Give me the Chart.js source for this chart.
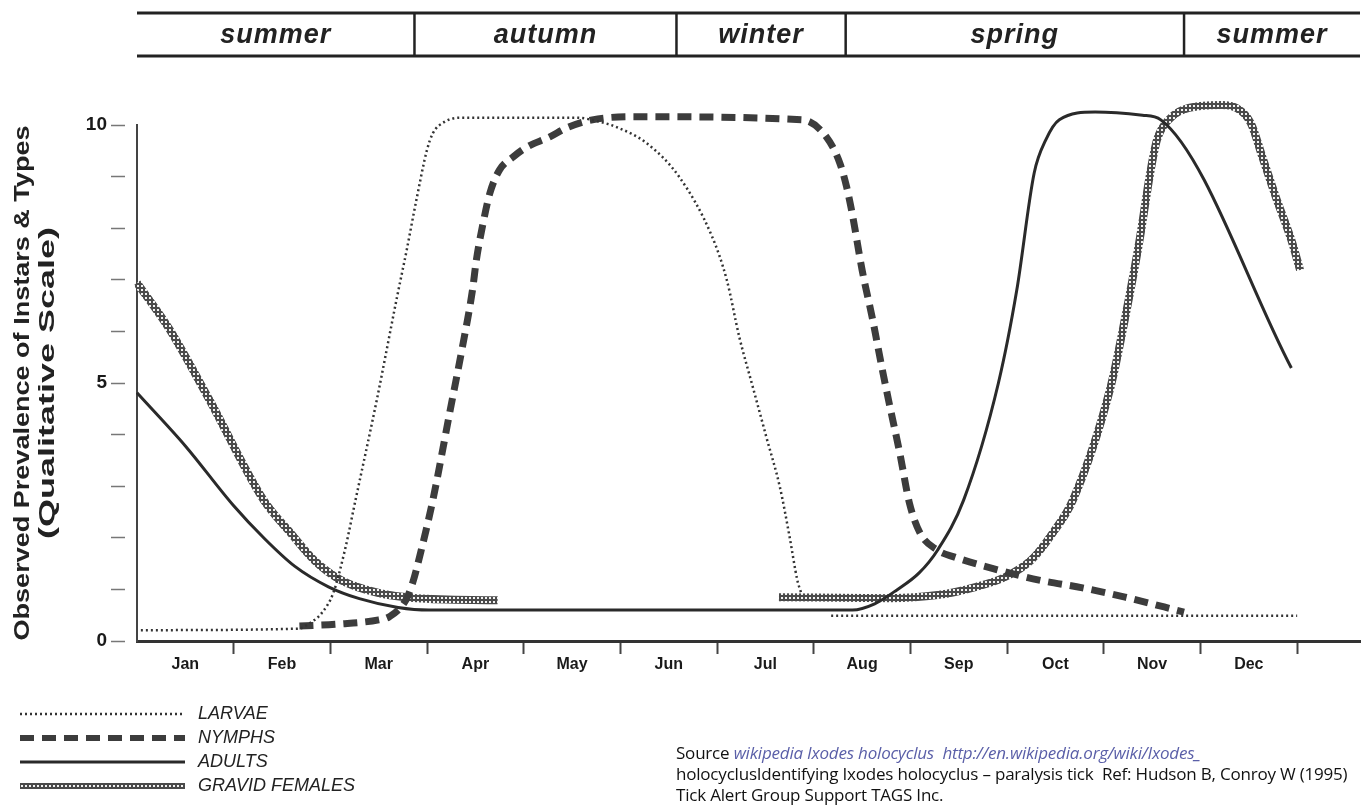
<!DOCTYPE html>
<html>
<head>
<meta charset="utf-8">
<script src="https://cdn.jsdelivr.net/npm/chart.js@4.4.1/dist/chart.umd.min.js"></script>
<style>
  html, body { margin: 0; padding: 0; background: #fff; overflow: hidden; }
  #wrap { position: relative; width: 1367px; height: 805px; }
  #source { position: absolute; left: 676px; top: 742px; font: 17px "Open Sans", "Liberation Sans", Arial, sans-serif;
            line-height: 21px; color: #111; white-space: nowrap; letter-spacing: -0.2px; }
  #source i { color: #5a5fa8; }
</style>
</head>
<body>
<div id="wrap">
  <canvas id="tickChart"></canvas>
  <div id="source">Source <i>wikipedia Ixodes holocyclus&nbsp; http://en.wikipedia.org/wiki/Ixodes_</i><br>holocyclusIdentifying Ixodes holocyclus – paralysis tick&nbsp; Ref: Hudson B, Conroy W (1995)<br>Tick Alert Group Support TAGS Inc.</div>
</div>
<script>
// months along the bottom, seasons along the top (x in months from start of Jan)
const months = ["Jan","Feb","Mar","Apr","May","Jun","Jul","Aug","Sep","Oct","Nov","Dec"];
const seasonNames = ["summer","autumn","winter","spring","summer"];
const seasonEdges = [0, 2.87, 5.58, 7.33, 10.83, 12.65];
const yTickLabels = [0, 5, 10];
const yTitle = ["Observed Prevalence of Instars & Types", "(Qualitative Scale)"];

// series (null = gap in the line)
const larvaeX = [0.04,1.67,1.79,1.91,2.03,2.15,2.26,2.48,2.69,2.79,2.89,3.00,3.06,3.18,3.34,4.55,4.79,4.96,5.27,5.61,5.95,6.10,6.23,6.37,6.51,6.65,6.75,6.83,6.87,7.0,7.18,12.0];
const larvaeY = [0.21,0.24,0.35,0.54,0.93,1.76,2.73,4.67,6.67,7.58,8.55,9.52,9.84,10.06,10.14,10.14,10.06,9.96,9.65,8.99,7.83,7.0,5.89,4.92,3.95,2.98,2.02,1.18,0.93,null,0.49,0.49];

const nymphX = [1.68,2.10,2.50,2.61,2.78,2.85,2.94,3.06,3.24,3.36,3.47,3.51,3.58,3.65,3.75,3.89,4.03,4.27,4.44,4.71,5.13,6.88,7.13,7.27,7.34,7.40,7.50,7.61,7.71,7.78,7.89,7.99,8.10,8.28,8.45,8.90,9.33,9.78,10.22,10.83];
const nymphY = [0.29,0.33,0.41,0.47,0.79,1.12,1.76,2.73,4.48,5.64,6.80,7.38,8.10,8.68,9.13,9.38,9.57,9.77,9.94,10.10,10.16,10.10,9.77,9.26,8.80,8.26,7.19,6.22,5.25,4.61,3.64,2.67,2.09,1.76,1.63,1.38,1.18,1.03,0.85,0.56];

const adultX = [0,0.50,1.00,1.31,1.63,1.98,2.30,2.70,3.02,7.40,7.63,7.86,8.09,8.28,8.55,8.91,9.10,9.28,9.40,9.54,9.91,10.40,10.59,11.94];
const adultY = [4.81,3.78,2.62,2.00,1.45,1.05,0.82,0.65,0.60,0.60,0.72,0.99,1.32,1.76,2.73,5.00,6.80,9.07,9.71,10.10,10.25,10.19,10.10,5.29];

const gravidX = [0,0.34,0.75,1.31,1.59,1.83,2.11,2.50,2.89,3.73,5.0,6.64,7.79,8.28,8.68,8.98,9.25,9.47,9.68,10.07,10.21,10.37,10.48,10.55,10.67,10.88,11.22,11.37,11.52,11.64,11.78,11.94,12.03];
const gravidY = [6.94,6.03,4.67,2.73,2.09,1.57,1.18,0.93,0.83,0.79,null,0.85,0.83,0.89,1.05,1.24,1.57,2.09,2.73,4.92,6.16,7.77,9.07,9.71,10.10,10.33,10.39,10.33,10.04,9.38,8.60,7.77,7.19];

function pts(xs, ys) { return xs.map((x, i) => ({ x: x, y: ys[i] })); }

// checkered texture for the gravid females line
const pc = document.createElement("canvas");
pc.width = 4; pc.height = 4;
const pg = pc.getContext("2d");
pg.fillStyle = "#4a4a4a"; pg.fillRect(0, 0, 4, 4);
pg.fillStyle = "#f2f2f2"; pg.fillRect(1, 1, 2, 2);
const gravidPattern = pg.createPattern(pc, "repeat");

// tick positions: month labels in the middle, marks at month ends
const xTickValues = [];
months.forEach((m, i) => { xTickValues.push(i + 0.5, i + 1); });

const FONT = '"Liberation Sans", Arial, sans-serif';

const seasonBar = {
  id: "seasonBar",
  afterDraw(chart) {
    const { ctx, chartArea, scales: { x } } = chart;
    ctx.save();
    ctx.strokeStyle = "#222";
    ctx.lineWidth = 3;
    ctx.beginPath();
    ctx.moveTo(chartArea.left, 13); ctx.lineTo(chartArea.right, 13);
    ctx.moveTo(chartArea.left, 56); ctx.lineTo(chartArea.right, 56);
    ctx.stroke();
    ctx.lineWidth = 2.5;
    ctx.font = "italic bold 27px " + FONT;
    ctx.letterSpacing = "1px";
    ctx.textAlign = "center";
    ctx.fillStyle = "#222";
    seasonNames.forEach((name, i) => {
      const a = x.getPixelForValue(seasonEdges[i]);
      const b = Math.min(x.getPixelForValue(seasonEdges[i + 1]), chartArea.right);
      if (i > 0) {
        ctx.beginPath(); ctx.moveTo(a, 13); ctx.lineTo(a, 56); ctx.stroke();
      }
      ctx.fillText(name, (a + b) / 2, 43);
    });
    ctx.restore();
  }
};

const yTitlePlugin = {
  id: "yTitlePlugin",
  afterDraw(chart) {
    const { ctx, chartArea } = chart;
    const cy = (chartArea.top + chartArea.bottom) / 2;
    const cxs = [23, 48];
    const lens = [515, 312];
    ctx.save();
    ctx.font = "bold 22px " + FONT;
    ctx.fillStyle = "#222";
    ctx.textAlign = "center";
    ctx.textBaseline = "middle";
    yTitle.forEach((t, i) => {
      const w = ctx.measureText(t).width;
      ctx.save();
      ctx.translate(cxs[i], cy);
      ctx.rotate(-Math.PI / 2);
      ctx.scale(lens[i] / w, 1);
      ctx.fillText(t, 0, 0);
      ctx.restore();
    });
    ctx.restore();
  }
};

const legendRows = {
  id: "legendRows",
  afterDraw(chart) {
    const ctx = chart.ctx;
    const rows = [714, 738, 762, 786];
    ctx.save();
    ctx.font = "italic 18px " + FONT;
    ctx.textBaseline = "middle";
    chart.data.datasets.forEach((ds, i) => {
      const y = rows[i];
      ctx.strokeStyle = ds.borderColor;
      ctx.lineWidth = Math.min(ds.borderWidth, 6);
      ctx.setLineDash(ds.borderDash || []);
      ctx.beginPath();
      ctx.moveTo(20, y); ctx.lineTo(185, y);
      ctx.stroke();
      ctx.setLineDash([]);
      ctx.fillStyle = "#222";
      ctx.fillText(ds.label, 198, y);
    });
    ctx.restore();
  }
};

new Chart(document.getElementById("tickChart"), {
  type: "line",
  data: {
    datasets: [
      { label: "LARVAE", data: pts(larvaeX, larvaeY), borderColor: "#333", borderWidth: 2.5, borderDash: [2, 3] },
      { label: "NYMPHS", data: pts(nymphX, nymphY), borderColor: "#3c3c3c", borderWidth: 7, borderDash: [14, 8] },
      { label: "ADULTS", data: pts(adultX, adultY), borderColor: "#2a2a2a", borderWidth: 3 },
      { label: "GRAVID FEMALES", data: pts(gravidX, gravidY), borderColor: gravidPattern, borderWidth: 8 }
    ]
  },
  options: {
    responsive: true,
    maintainAspectRatio: false,
    animation: false,
    layout: { padding: { top: 125, right: 7, left: 0, bottom: 0 } },
    datasets: { line: { pointRadius: 0, cubicInterpolationMode: "monotone", clip: false, spanGaps: false } },
    plugins: { legend: { display: false }, tooltip: { enabled: false } },
    scales: {
      x: {
        type: "linear",
        min: 0,
        max: 12.65,
        afterFit(scale) { scale.height = 164; },
        afterBuildTicks(scale) { scale.ticks = xTickValues.map(v => ({ value: v })); },
        ticks: {
          autoSkip: false,
          maxRotation: 0,
          padding: 1,
          color: "#1a1a1a",
          font: { family: FONT, size: 16, weight: "bold" },
          callback: v => Number.isInteger(v) ? "" : months[Math.floor(v)]
        },
        grid: {
          drawOnChartArea: false,
          tickLength: 13,
          tickWidth: 2,
          tickColor: c => Number.isInteger(c.tick.value) ? "#444" : "rgba(0,0,0,0)"
        },
        border: { display: true, color: "#333", width: 3 }
      },
      y: {
        min: 0,
        max: 10,
        afterFit(scale) { scale.width = 137; },
        ticks: {
          stepSize: 1,
          padding: 4,
          color: "#1a1a1a",
          font: { family: FONT, size: 19, weight: "bold" },
          callback: v => yTickLabels.includes(v) ? String(v) : ""
        },
        grid: {
          drawOnChartArea: false,
          tickLength: 26,
          tickWidth: 1.5,
          tickColor: "#777",
          tickBorderDash: [14, 40]
        },
        border: { display: true, color: "#444", width: 2 }
      }
    }
  },
  plugins: [seasonBar, yTitlePlugin, legendRows]
});
</script>
</body>
</html>
